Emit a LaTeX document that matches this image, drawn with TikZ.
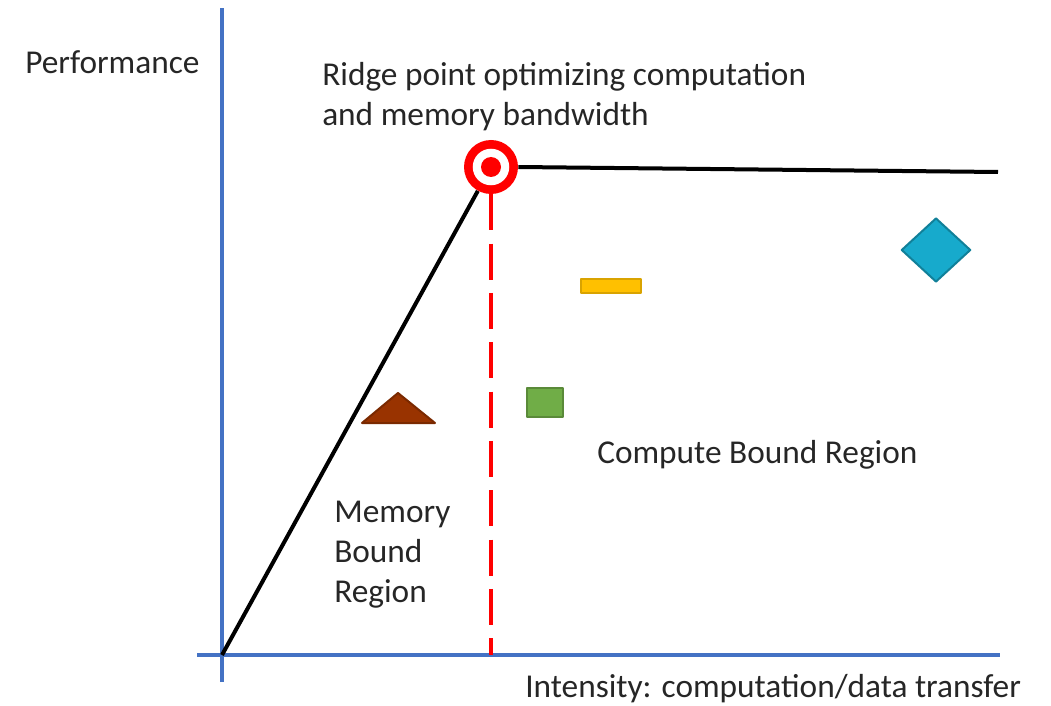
\documentclass[tikz,border=0pt]{standalone}
\usepackage{fontspec}
\setmainfont{Carlito}
\definecolor{rlaxis}{HTML}{4472C4}
\definecolor{rlred}{HTML}{FF0000}
\definecolor{rlbrown}{HTML}{993300}
\definecolor{rlgreen}{HTML}{70AD47}
\definecolor{rlgold}{HTML}{FFC000}
\definecolor{rlcyan}{HTML}{17AACC}
\definecolor{rltext}{HTML}{262626}
\usetikzlibrary{arrows.meta, positioning, shapes.geometric, calc}

\begin{document}
\begin{tikzpicture}[x=0.75pt, y=-0.75pt,
  axis/.style={draw=rlaxis, line width=3pt},
  roof/.style={draw=black, line width=3pt},
  lbl/.style={font=\fontsize{25}{30}\selectfont, text=rltext, inner sep=0pt, align=left},
  kernel/.style={line width=1.5pt, line join=round},
]
  \useasboundingbox (0,0) rectangle (1051,706);

  % Axes
  \coordinate (origin) at (222,655);
  \coordinate (ytop) at (222,8);
  \coordinate (ybot) at (222,682);
  \coordinate (xleft) at (197,655);
  \coordinate (xright) at (1000,655);
  \draw[axis] (ybot) -- (ytop);
  \draw[axis] (xleft) -- (xright);

  % Roofline
  \node[circle, fill=rlred, inner sep=0pt, minimum size=40.5pt] (ridge) at (491,167) {};
  \coordinate (roofend) at (998,172);
  \draw[roof] (origin) -- (ridge);
  \draw[roof] (ridge.east) -- (roofend);
  \draw[rlred, line width=3pt, dash pattern=on 27pt off 10pt] (ridge.south) -- (ridge |- origin);
  \fill[white] (ridge.center) circle (13.7pt);
  \fill[rlred] (ridge.center) circle (7.5pt);

  % Kernels
  \draw[kernel, fill=rlbrown, draw=rlbrown!80!black] (362,423) -- (398,393) -- (435,423) -- cycle;
  \node[kernel, draw=rlgreen!80!black, fill=rlgreen, minimum width=27pt, minimum height=22pt,
        inner sep=0pt] (sq) at (544.5,402.5) {};
  \node[kernel, draw=rlgold!85!black, fill=rlgold, minimum width=45pt, minimum height=10.5pt,
        inner sep=0pt] (bar) at (611,286) {};
  \node[kernel, diamond, draw=rlcyan!75!black, fill=rlcyan, minimum width=52pt, minimum height=48pt,
        inner sep=0pt] (dia) at (936,250) {};

  % Labels
  \node[lbl, anchor=west] (perf) at (25,62) {Performance};
  \node[lbl, anchor=west] (ridgelbl) at (322,97) {Ridge point optimizing computation\\and memory bandwidth};
  \node[lbl, anchor=west] (membound) at (334,555) {Memory\\Bound\\Region};
  \node[lbl, anchor=west] (compbound) at (597,455) {Compute Bound Region};
  \node[lbl, anchor=west] (intens) at (525,689) {Intensity: computation/data transfer};
\end{tikzpicture}
\end{document}
